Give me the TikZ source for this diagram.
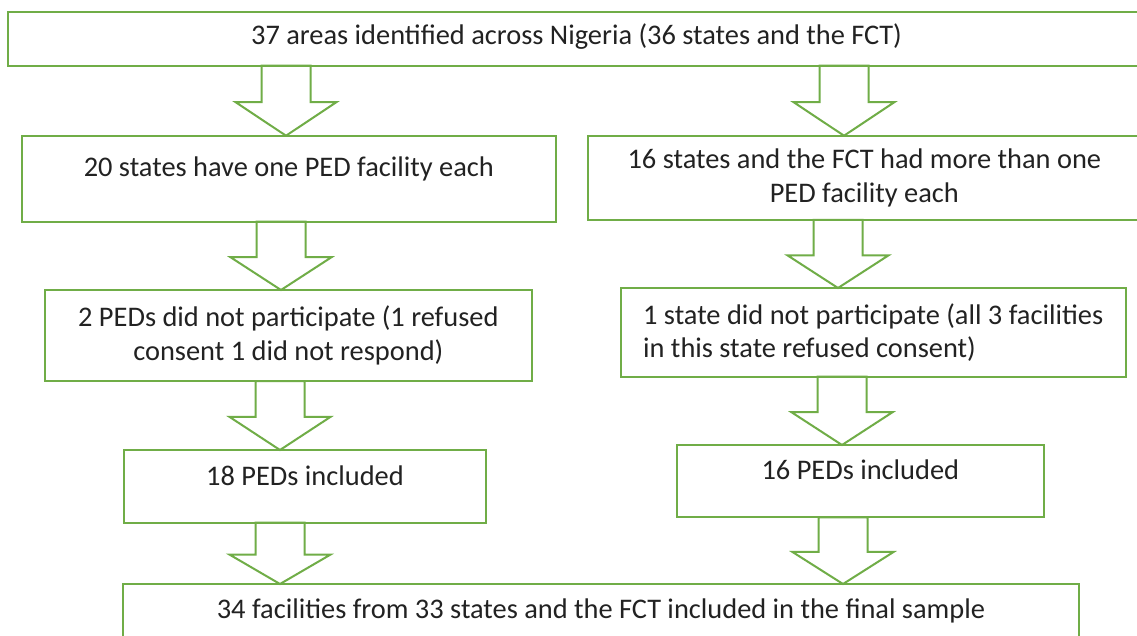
\documentclass[tikz,border=0pt]{standalone}
\usepackage{fontspec}
\setmainfont{Carlito}
\usetikzlibrary{calc}

\definecolor{flowgreen}{HTML}{70AD47}
\definecolor{inkgray}{HTML}{222222}

\tikzset{
  box/.style={draw=flowgreen, line width=2pt, rectangle, inner sep=0pt,
    outer sep=0pt, text=inkgray, font=\fontsize{28.4}{33.5}\selectfont},
  arrowbody/.style={draw=flowgreen, line width=2pt, line join=miter},
}

% hollow block arrow at horizontal position #1 (pt), from node #2 down to node #3
\newcommand\flowarrow[3]{%
  \draw[arrowbody] let \p1=(#2.south), \p2=(#3.north),
      \p3=($(#2.south)!0.52!(#3.north)$) in
    ({#1pt-24.5pt},\y1) -- ({#1pt-24.5pt},\y3) -- ({#1pt-50.5pt},\y3)
    -- ({#1pt},\y2) -- ({#1pt+50.5pt},\y3) -- ({#1pt+24.5pt},\y3)
    -- ({#1pt+24.5pt},\y1) -- cycle;}

\begin{document}
\begin{tikzpicture}[x=1pt, y=-1pt]
  \useasboundingbox (0,0) rectangle (1137,636);
  \fill[white] (0,0) rectangle (1137,636);
  \clip (0,0) rectangle (1137,636);

  % boxes
  \node[box, minimum width=1137pt, minimum height=54pt,
        text height=21pt, text depth=9.4pt] (top) at (576.5,38.7)
        {37 areas identified across Nigeria (36 states and the FCT)};

  \node[box, minimum width=533.7pt, minimum height=86pt,
        text height=21pt, text depth=24.4pt] (oneL) at (288.85,178.7)
        {20 states have one PED facility each};
  \node[box, minimum width=553.3pt, minimum height=84.3pt, align=center]
        (oneR) at (864.35,177.85)
        {16 states and the FCT had more than one\\PED facility each};

  \node[box, minimum width=486.7pt, minimum height=91pt, align=center]
        (twoL) at (288.35,335.5)
        {2 PEDs did not participate (1 refused\\consent 1 did not respond)};
  \node[box, minimum width=505pt, minimum height=88.7pt, align=left]
        (twoR) at (873.2,332.35)
        {1 state did not participate (all 3 facilities\\in this state refused consent)};

  \node[box, minimum width=362pt, minimum height=72.7pt,
        text height=21pt, text depth=22pt] (threeL) at (305,486.35)
        {18 PEDs included};
  \node[box, minimum width=367.3pt, minimum height=72.3pt,
        text height=21pt, text depth=24.8pt] (threeR) at (860.35,481.15)
        {16 PEDs included};

  \node[box, minimum width=956pt, minimum height=86pt,
        text height=21pt, text depth=39pt] (final) at (601,627)
        {34 facilities from 33 states and the FCT included in the final sample};

  % block arrows
  \flowarrow{286}{top}{oneL}
  \flowarrow{844}{top}{oneR}
  \flowarrow{281}{oneL}{twoL}
  \flowarrow{838}{oneR}{twoR}
  \flowarrow{280}{twoL}{threeL}
  \flowarrow{842}{twoR}{threeR}
  \flowarrow{280}{threeL}{final}
  \flowarrow{843}{threeR}{final}
\end{tikzpicture}
\end{document}
